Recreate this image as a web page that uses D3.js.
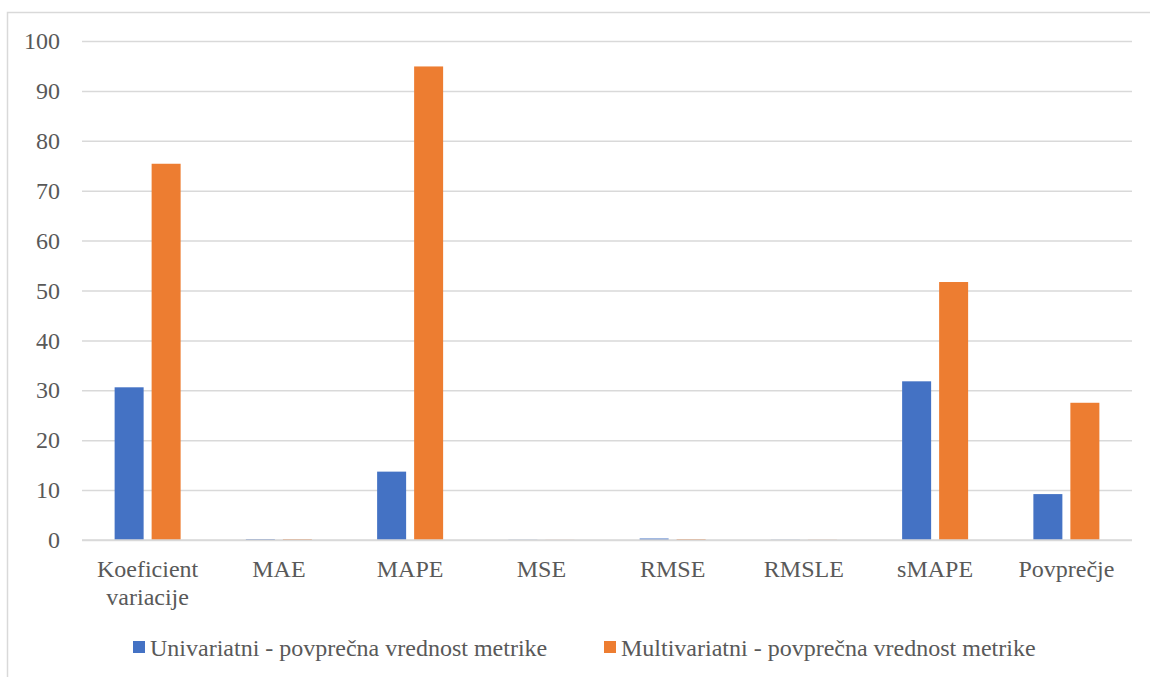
<!DOCTYPE html>
<html>
<head>
<meta charset="utf-8">
<script src="https://cdn.jsdelivr.net/npm/d3@7"></script>
<style>
  html, body { margin: 0; padding: 0; background: #fff; }
  svg { display: block; }
</style>
</head>
<body>
<svg id="chart" width="1150" height="677"></svg>
<script>
// Metric categories (second line of a label is split on "\n")
const categories = ["Koeficient\nvariacije", "MAE", "MAPE", "MSE", "RMSE", "RMSLE", "sMAPE", "Povprečje"];
// Average metric value per model type
const univariatni   = [30.6, 0.2, 13.7, 0.05, 0.3, 0.05, 31.8, 9.2];
const multivariatni = [75.4, 0.2, 94.9, 0.03, 0.2, 0.05, 51.7, 27.5];
const seriesNames = ["Univariatni - povprečna vrednost metrike", "Multivariatni - povprečna vrednost metrike"];
const seriesColors = ["#4472c4", "#ed7d31"];
const yTicks = [0, 10, 20, 30, 40, 50, 60, 70, 80, 90, 100];

const FONT = '"Liberation Serif"';
const FONT_SIZE = 24;
const TEXT_COLOR = "#595959";

const svg = d3.select("#chart");

// Chart frame
svg.append("path")
  .attr("d", "M7.5,677 V12.5 H1150")
  .attr("fill", "none")
  .attr("stroke", "#d9d9d9")
  .attr("stroke-width", 1.5);

const plot = { left: 82, right: 1132, top: 41, bottom: 540 };

const x = d3.scaleBand().domain(categories).range([plot.left, plot.right]).paddingInner(0).paddingOuter(0);
const y = d3.scaleLinear().domain([0, 100]).range([plot.bottom, plot.top]);

// Horizontal gridlines and y labels
const yAxis = d3.axisLeft(y).tickValues(yTicks).tickSize(-(plot.right - plot.left)).tickPadding(22).tickFormat(d3.format("d"));
const gy = svg.append("g").attr("transform", `translate(${plot.left},0)`).call(yAxis);
gy.attr("font-family", null).attr("font-size", null);
gy.select(".domain").remove();
gy.selectAll(".tick line").attr("stroke", "#d9d9d9").attr("stroke-width", 1.5);
gy.selectAll(".tick text")
  .style("font-family", FONT).style("font-size", FONT_SIZE + "px")
  .attr("fill", TEXT_COLOR).attr("dy", "0.32em");

// Bars: two series grouped inside each category band
const barW = 29, barGap = 8;
const offsets = [ -barGap / 2 - barW, barGap / 2 ];
const series = [univariatni, multivariatni];

series.forEach((vals, si) => {
  svg.append("g").selectAll("rect")
    .data(vals.map((v, i) => ({ cat: categories[i], v })))
    .join("rect")
    .attr("x", d => x(d.cat) + x.bandwidth() / 2 + offsets[si])
    .attr("width", barW)
    .attr("y", d => y(d.v))
    .attr("height", d => Math.max(0, y(0) - y(d.v)))
    .attr("fill", seriesColors[si]);
});

// Baseline
svg.append("line")
  .attr("x1", plot.left).attr("x2", plot.right)
  .attr("y1", y(0)).attr("y2", y(0))
  .attr("stroke", "#d9d9d9").attr("stroke-width", 1.5);

// Category labels
const gx = svg.append("g");
categories.forEach(c => {
  const cx = x(c) + x.bandwidth() / 2;
  const t = gx.append("text").attr("text-anchor", "middle").attr("x", cx).attr("y", 577)
    .style("font-family", FONT).style("font-size", FONT_SIZE + "px").attr("fill", TEXT_COLOR);
  c.split("\n").forEach((ln, li) => {
    t.append("tspan").attr("x", cx).attr("dy", li === 0 ? 0 : 28).text(ln);
  });
});

// Legend
const legendX = [133, 604];
seriesNames.forEach((name, i) => {
  const g = svg.append("g").attr("transform", `translate(${legendX[i]},0)`);
  g.append("rect").attr("x", 0).attr("y", 641).attr("width", 12).attr("height", 12).attr("fill", seriesColors[i]);
  g.append("text").attr("x", 17).attr("y", 655.5)
    .style("font-family", FONT).style("font-size", FONT_SIZE + "px").attr("fill", TEXT_COLOR)
    .text(name);
});
</script>
</body>
</html>
